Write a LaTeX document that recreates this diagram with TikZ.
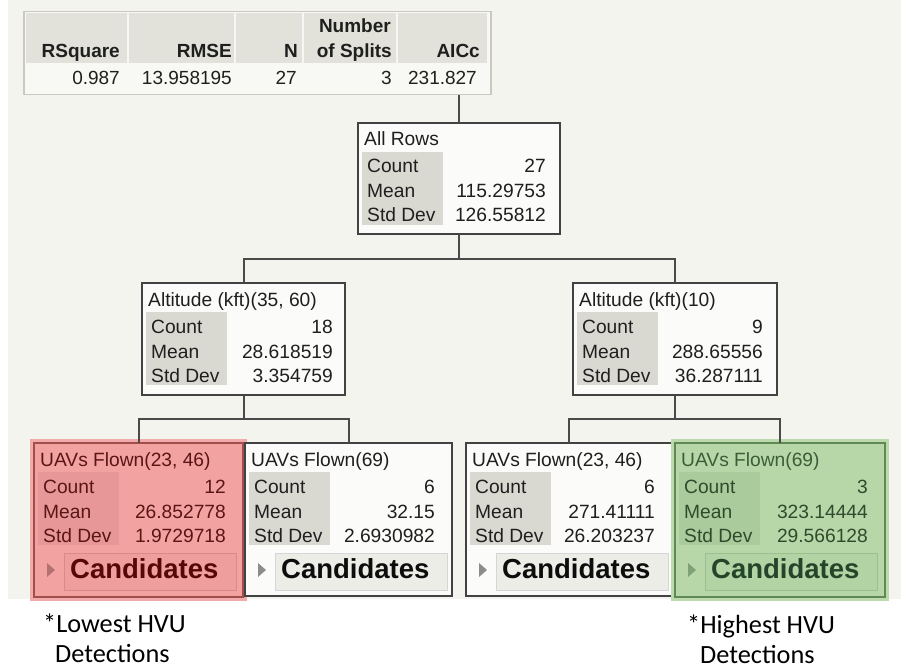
\documentclass[tikz,border=0pt]{standalone}
\usepackage{fontspec}
\setmainfont{Liberation Sans}
\newfontfamily\notefont{Carlito}
\usetikzlibrary{calc}

\definecolor{pagebg}{HTML}{F4F4EF}
\definecolor{tabborder}{HTML}{C9C9C1}
\definecolor{tabhead}{HTML}{E2E2DA}
\definecolor{tabrow}{HTML}{F8F8F4}
\definecolor{conncol}{HTML}{4A4A4A}
\definecolor{halored}{HTML}{F3AAAA}
\definecolor{halogreen}{HTML}{BCDAAE}

\newcommand{\bxfont}{\fontsize{19.2}{23}\selectfont}
\newcommand{\candfont}{\fontsize{27.5}{30}\selectfont\bfseries}
\newcommand{\tabfont}{\fontsize{19}{23}\selectfont}
\newcommand{\notesize}{\notefont\fontsize{26.3}{30}\selectfont}

\tikzset{
  statnode/.style={draw=bxdraw, fill=bxfill, line width=2pt, anchor=north west, inner sep=0pt, outer sep=0pt},
  txt/.style={anchor=base west, inner sep=0pt, font=\bxfont},
  val/.style={anchor=base east, inner sep=0pt, font=\bxfont},
  tabtxt/.style={anchor=base east, inner sep=0pt, font=\tabfont, text=black!88},
  tabhd/.style={anchor=base east, inner sep=0pt, font=\tabfont\bfseries, text=black!88},
  conn/.style={draw=conncol, line width=2pt},
  candnode/.style={draw=cdraw, fill=cfill, line width=1pt, anchor=north west, inner sep=0pt, minimum width=172pt, minimum height=37pt},
  notetxt/.style={anchor=base west, inner sep=0pt, font=\notesize, text=black}
}

% #1 name, #2 left, #3 top, #4 width, #5 height, #6 title, #7 count, #8 mean, #9 std
\newcommand{\statbox}[9]{%
  \node[statnode, minimum width=#4pt, minimum height=#5pt] (#1) at (#2,#3) {};
  \fill[bxlab] ($(#1.north west)+(4,29)$) rectangle ($(#1.north west)+(85,102)$);
  \node[txt, text=bxtitle] (#1-title) at ($(#1.north west)+(6,23)$) {#6};
  \node[txt, text=bxtxt] (#1-cl) at ($(#1.north west)+(9,50)$) {Count};
  \node[txt, text=bxtxt] (#1-ml) at ($(#1.north west)+(9,75)$) {Mean};
  \node[txt, text=bxtxt] (#1-sl) at ($(#1.north west)+(9,99)$) {Std Dev};
  \node[val, text=bxtxt] (#1-cv) at ($(#1.north east)+(-\valoff,50)$) {#7};
  \node[val, text=bxtxt] (#1-mv) at ($(#1.north east)+(-\valoff,75)$) {#8};
  \node[val, text=bxtxt] (#1-sv) at ($(#1.north east)+(-\valoff,99)$) {#9};
}
\newcommand{\candbox}[1]{%
  \node[candnode] (#1-cand) at ($(#1.north west)+(30,110)$) {};
  \node[anchor=base west, inner sep=0pt, font=\candfont, text=ctxt] (#1-ctext) at ($(#1-cand.north west)+(6,25)$) {Candidates};
  \fill[ctri] ($(#1.north west)+(13,120)$) -- ($(#1.north west)+(13,134)$) -- ($(#1.north west)+(21,127)$) -- cycle;
}
\newcommand{\whitecolors}{%
  \colorlet{bxfill}{white!60!pagebg}\colorlet{bxdraw}{black!74}\colorlet{bxlab}{black!4!tabhead}%
  \colorlet{bxtxt}{black!88}\colorlet{bxtitle}{black!88}\colorlet{cfill}{black!3!pagebg}%
  \colorlet{cdraw}{black!16}\colorlet{ctxt}{black!95}\colorlet{ctri}{black!45}}

\begin{document}
\begin{tikzpicture}[x=1pt,y=-1pt]
\useasboundingbox (0,0) rectangle (901,668);
\fill[white] (0,0) rectangle (901,668);
\fill[pagebg] (8,0) rectangle (901,599);

% summary table
\node[draw=tabborder, fill=tabrow, line width=1.5pt, anchor=north west, inner sep=0pt, minimum width=467pt, minimum height=83pt] (tab) at (23,11) {};
\fill[tabhead] (26,13) rectangle (487,63);
\foreach \sx in {128,235,303,397} \draw[white!70!tabhead, line width=2pt] (\sx,13) -- (\sx,63);
\node[tabhd] (h1) at (120,58) {RSquare};
\node[tabhd] (h2) at (232,58) {RMSE};
\node[tabhd] (h3) at (298,58) {N};
\node[tabhd] (h4a) at (391,33) {Number};
\node[tabhd] (h4b) at (392,58) {of Splits};
\node[tabhd] (h5) at (480,58) {AICc};
\node[tabtxt] (v1) at (120,85) {0.987};
\node[tabtxt] (v2) at (232,85) {13.958195};
\node[tabtxt] (v3) at (297,85) {27};
\node[tabtxt] (v4) at (392,85) {3};
\node[tabtxt] (v5) at (477,85) {231.827};

% level 0
\whitecolors
\def\valoff{14}
\statbox{allrows}{358}{123}{202}{111}{All Rows}{27}{115.29753}{126.55812}

% level 1
\def\valoff{12}
\statbox{altL}{142}{283}{203}{112}{Altitude (kft)(35, 60)}{18}{28.618519}{3.354759}
\def\valoff{14}
\statbox{altR}{573}{283}{204}{112}{Altitude (kft)(10)}{9}{288.65556}{36.287111}

% level 2
\def\valoff{17}
\draw[halored, line width=4pt] (32,441) rectangle (245,599);
\definecolor{bxfill}{HTML}{F3A2A2}\definecolor{bxdraw}{HTML}{A24C4C}\definecolor{bxlab}{HTML}{E79797}
\definecolor{bxtxt}{HTML}{5A1515}\definecolor{bxtitle}{HTML}{5A1515}\definecolor{cfill}{HTML}{F09D9D}
\definecolor{cdraw}{HTML}{D98A8A}\definecolor{ctxt}{HTML}{560808}\definecolor{ctri}{HTML}{B57070}
\statbox{uL1}{34}{443}{209}{154}{UAVs Flown(23, 46)}{12}{26.852778}{1.9729718}
\candbox{uL1}

\whitecolors
\statbox{uL2}{245}{443}{207}{153}{UAVs Flown(69)}{6}{32.15}{2.6930982}
\candbox{uL2}
\statbox{uR1}{466}{443}{206}{153}{UAVs Flown(23, 46)}{6}{271.41111}{26.203237}
\candbox{uR1}

\draw[halogreen, line width=4pt] (673,441) rectangle (887,599);
\definecolor{bxfill}{HTML}{B7D7A9}\definecolor{bxdraw}{HTML}{5F8A55}\definecolor{bxlab}{HTML}{AACB9C}
\definecolor{bxtxt}{HTML}{2F4B2C}\definecolor{bxtitle}{HTML}{3B5E38}\definecolor{cfill}{HTML}{B2D3A4}
\definecolor{cdraw}{HTML}{9DBF8F}\definecolor{ctxt}{HTML}{25452A}\definecolor{ctri}{HTML}{7EA175}
\statbox{uR2}{675}{443}{210}{154}{UAVs Flown(69)}{3}{323.14444}{29.566128}
\candbox{uR2}

% connectors
\draw[conn] (allrows.north) -- (allrows.north |- tab.south);
\draw[conn] (allrows.south) -- ++(0,25) -| (altL.north);
\draw[conn] (allrows.south) -- ++(0,25) -| (altR.north);
\draw[conn] (altL.south) -- ++(0,24) -| (uL1.north);
\draw[conn] (altL.south) -- ++(0,24) -| (uL2.north);
\draw[conn] (altR.south) -- ++(0,24) -| (uR1.north);
\draw[conn] (altR.south) -- ++(0,24) -| (uR2.north);

% notes
\node[notetxt] (lowA) at (43,632) {*Lowest HVU};
\node[notetxt] (lowB) at (55,662) {Detections};
\node[notetxt] (highA) at (687,633) {*Highest HVU};
\node[notetxt] (highB) at (700,663) {Detections};
\end{tikzpicture}
\end{document}
